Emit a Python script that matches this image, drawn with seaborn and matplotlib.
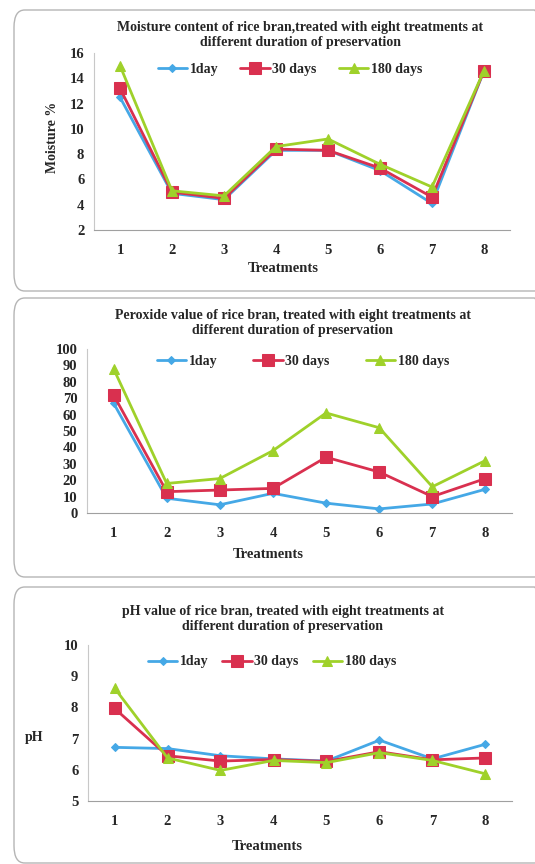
import matplotlib
matplotlib.use('Agg')
import matplotlib.pyplot as plt
import seaborn as sns
from matplotlib.patches import FancyBboxPatch

# ==============================
# Data
# ==============================
treatments = [1, 2, 3, 4, 5, 6, 7, 8]
series_names = ['1day', '30 days', '180 days']

moisture_1day = [12.5, 4.9, 4.4, 8.3, 8.3, 6.7, 4.1, 14.6]
moisture_30 = [13.2, 5.0, 4.5, 8.4, 8.3, 6.9, 4.6, 14.6]
moisture_180 = [15.0, 5.1, 4.7, 8.6, 9.2, 7.2, 5.4, 14.6]

peroxide_1day = [67, 9, 5, 12, 6, 2.5, 5.5, 14.5]
peroxide_30 = [72, 13, 14, 15, 34, 25, 10, 21]
peroxide_180 = [88, 18, 21, 38, 61, 52, 16, 32]

ph_1day = [6.72, 6.68, 6.45, 6.35, 6.28, 6.95, 6.35, 6.82]
ph_30 = [7.97, 6.45, 6.28, 6.33, 6.27, 6.58, 6.32, 6.38]
ph_180 = [8.62, 6.38, 5.98, 6.30, 6.23, 6.55, 6.30, 5.87]

colors = ['#45a8e6', '#d9304f', '#9fd12a']
markers = ['D', 's', '^']
msizes = [4, 8, 7]

sns.set_style('white')
plt.rcParams['font.family'] = ['Liberation Serif', 'DejaVu Serif']
plt.rcParams['font.weight'] = 'bold'

W, H = 535, 864
fig = plt.figure(figsize=(W / 100, H / 100), dpi=100)


def fx(px):
    return px / W


def fy(py):
    return 1 - py / H


def panel(box, ax_box, values, ylim, yticks, title, title_y, title_x, leg_pos, leg_gap,
          ylabel=None, ylabel_pos=None, xlabel_pos=None):
    # rounded frame round each chart
    x0, y0, x1, y1 = box
    frame = FancyBboxPatch((fx(x0), fy(y1)), fx(x1 - x0), (y1 - y0) / H,
                           boxstyle='round,pad=0,rounding_size=0.02',
                           transform=fig.transFigure, facecolor='none',
                           edgecolor='#b5b5b5', linewidth=1.0, zorder=-1)
    fig.patches.append(frame)

    l, t, r, b = ax_box
    ax = fig.add_axes([fx(l), fy(b), fx(r - l), (b - t) / H])
    ax.patch.set_alpha(0)
    for vals, name, c, m, ms in zip(values, series_names, colors, markers, msizes):
        sns.lineplot(x=treatments, y=vals, ax=ax, color=c, marker=m, markersize=ms,
                     markeredgecolor=c, linewidth=2, label=name)
    ax.set_xlim(0.5, 8.5)
    ax.set_ylim(*ylim)
    ax.set_yticks(yticks)
    ax.set_xticks(treatments)
    ax.set_xticks([i + 0.5 for i in range(0, 9)], minor=True)
    ax.tick_params(axis='x', which='major', length=0, pad=10, labelsize=10.5)
    ax.tick_params(axis='x', which='minor', length=4, color='#a0a0a0', direction='out')
    ax.tick_params(axis='y', length=4, color='#a0a0a0', labelsize=10.5, pad=3)
    for lab in ax.get_xticklabels() + ax.get_yticklabels():
        lab.set_fontweight('bold')
    for s in ['top', 'right']:
        ax.spines[s].set_visible(False)
    ax.spines['left'].set_color('#c8c8c8')
    ax.spines['bottom'].set_color('#a0a0a0')
    ax.set_xlabel('')
    ax.set_ylabel('')
    leg = ax.legend(loc='center', bbox_to_anchor=(fx(leg_pos[0]), fy(leg_pos[1])),
                    bbox_transform=fig.transFigure,
                    ncol=3, frameon=False, fontsize=10, handlelength=2.1, columnspacing=leg_gap,
                    handletextpad=0.2, borderaxespad=0, borderpad=0)
    for txt in leg.get_texts():
        txt.set_fontweight('bold')
    fig.text(fx(title_x), fy(title_y), title, ha='center', va='center', fontsize=10,
             fontweight='bold', linespacing=1.2)
    fig.text(fx(xlabel_pos[0]), fy(xlabel_pos[1]), 'Treatments', ha='center', va='center',
             fontsize=10.5, fontweight='bold')
    if ylabel:
        rot = 90 if ylabel_pos[2] else 0
        fig.text(fx(ylabel_pos[0]), fy(ylabel_pos[1]), ylabel, ha='center', va='center',
                 rotation=rot, fontsize=10, fontweight='bold')
    return ax


panel((14, 10, 545, 291), (94, 53, 510, 230),
      [moisture_1day, moisture_30, moisture_180], (2, 16), range(2, 17, 2),
      'Moisture content of rice bran,treated with eight treatments at\ndifferent duration of preservation',
      35, 300, (290, 69), 1.6, ylabel='Moisture %', ylabel_pos=(52, 137, True), xlabel_pos=(283, 269))

panel((14, 298, 545, 577), (87, 349, 512, 513),
      [peroxide_1day, peroxide_30, peroxide_180], (0, 100), range(0, 101, 10),
      'Peroxide value of rice bran, treated with eight treatments at\ndifferent duration of preservation',
      323, 293, (303, 361), 2.6, xlabel_pos=(268, 554))

panel((14, 587, 545, 863), (88, 645, 512, 801),
      [ph_1day, ph_30, ph_180], (5, 10), range(5, 11),
      'pH value of rice bran, treated with eight treatments at\ndifferent duration of preservation',
      619, 283, (272, 662), 1.0, ylabel='pH', ylabel_pos=(34, 738, False), xlabel_pos=(267, 846))

fig.savefig('out.png', dpi=100, facecolor='white')
